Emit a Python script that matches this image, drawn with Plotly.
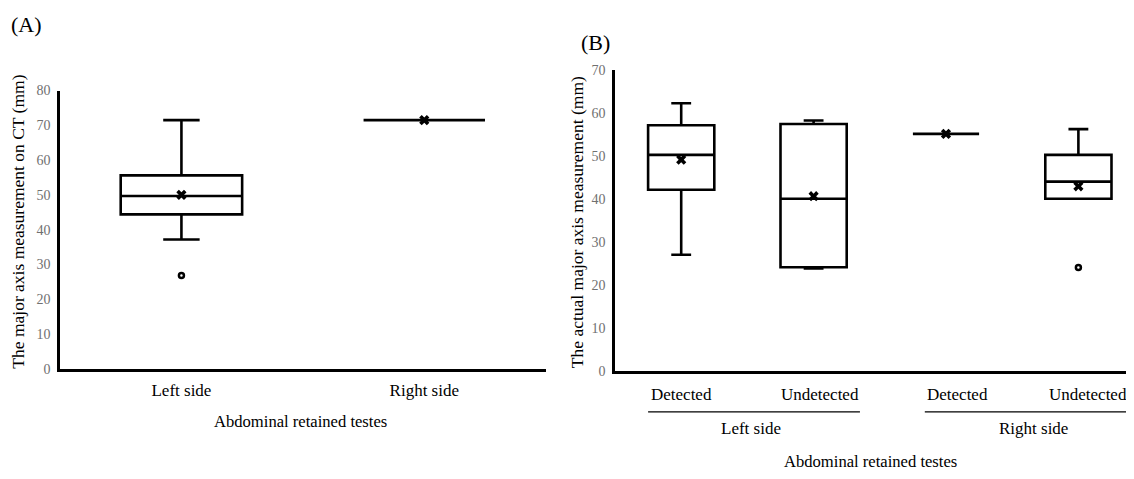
import plotly.graph_objects as go

# ---------------- Data ----------------
# Panel A: major axis measurement on CT (mm)
a_categories = ["Left side", "Right side"]
a_q1 = [44.4, 71.5]
a_median = [49.7, 71.5]
a_q3 = [55.6, 71.5]
a_lowerfence = [37.2, 71.5]
a_upperfence = [71.5, 71.5]
a_mean = [50.0, 71.5]
a_outlier_cat = ["Left side"]
a_outlier_val = [26.8]

# Panel B: actual major axis measurement (mm)
b_categories = ["Left Detected", "Left Undetected", "Right Detected", "Right Undetected"]
b_tick_labels = ["Detected", "Undetected", "Detected", "Undetected"]
b_groups = ["Left side", "Right side"]
b_q1 = [42.2, 24.2, 55.2, 40.1]
b_median = [50.3, 40.1, 55.2, 44.1]
b_q3 = [57.2, 57.5, 55.2, 50.3]
b_lowerfence = [27.1, 23.9, 55.2, 40.1]
b_upperfence = [62.3, 58.3, 55.2, 56.3]
b_mean = [49.2, 40.7, 55.2, 43.0]
b_outlier_cat = ["Right Undetected"]
b_outlier_val = [24.1]

x_title = "Abdominal retained testes"
a_y_title = "The major axis measurement on CT (mm)"
b_y_title = "The actual major axis measurement (mm)"

# ---------------- Figure ----------------
W, H = 1134, 479
OFF = 8  # page body margin
FW, FH = W - OFF, H - OFF
FONT = "Liberation Serif, Times New Roman, serif"
BLACK = "#000000"
GRAY = "#707070"


def pxx(px):
    return (px - OFF) / FW


def py(px):
    return 1 - (px - OFF) / FH


fig = go.Figure()

box_style = dict(
    boxpoints=False, boxmean=False, width=0.5, whiskerwidth=0.3,
    line=dict(color=BLACK, width=2.6), fillcolor="white",
    showlegend=False, hoverinfo="skip",
)
mean_marker = dict(symbol="x", size=9, color=BLACK, line=dict(width=0))
out_marker = dict(symbol="circle-open", size=5, color=BLACK, line=dict(width=2.5, color=BLACK))

fig.add_trace(go.Box(
    x=a_categories, q1=a_q1, median=a_median, q3=a_q3,
    lowerfence=a_lowerfence, upperfence=a_upperfence,
    xaxis="x", yaxis="y", **box_style))
fig.add_trace(go.Scatter(
    x=a_categories, y=a_mean, mode="markers", xaxis="x", yaxis="y",
    marker=mean_marker, showlegend=False, hoverinfo="skip"))
fig.add_trace(go.Scatter(
    x=a_outlier_cat, y=a_outlier_val, mode="markers", xaxis="x", yaxis="y",
    marker=out_marker, showlegend=False, hoverinfo="skip"))

fig.add_trace(go.Box(
    x=b_categories, q1=b_q1, median=b_median, q3=b_q3,
    lowerfence=b_lowerfence, upperfence=b_upperfence,
    xaxis="x2", yaxis="y2", **box_style))
fig.add_trace(go.Scatter(
    x=b_categories, y=b_mean, mode="markers", xaxis="x2", yaxis="y2",
    marker=mean_marker, showlegend=False, hoverinfo="skip"))
fig.add_trace(go.Scatter(
    x=b_outlier_cat, y=b_outlier_val, mode="markers", xaxis="x2", yaxis="y2",
    marker=out_marker, showlegend=False, hoverinfo="skip"))

axis_common = dict(showline=True, linecolor=BLACK, linewidth=2.6, showgrid=False,
                   zeroline=False, ticks="", mirror=False)

fig.update_layout(
    width=FW, height=FH,
    margin=dict(l=0, r=0, t=0, b=0),
    paper_bgcolor="white", plot_bgcolor="white",
    font=dict(family=FONT, color=BLACK),
    xaxis=dict(domain=[pxx(60), pxx(545.7)], type="category", range=[-0.5, 1.5],
               anchor="y", tickfont=dict(size=17, color=BLACK, family=FONT),
               ticklabelstandoff=4, **axis_common),
    yaxis=dict(domain=[py(373.5), py(86)], range=[0, 80], dtick=10, anchor="x",
               tickfont=dict(size=14, color=GRAY, family=FONT), ticklabelstandoff=4,
               **axis_common),
    xaxis2=dict(domain=[pxx(615), 1.0], type="category", range=[-0.5, 3.42],
                anchor="y2", showticklabels=False, **axis_common),
    yaxis2=dict(domain=[py(376), py(65)], range=[0, 70], dtick=10, anchor="x2",
                tickfont=dict(size=14, color=GRAY, family=FONT), ticklabelstandoff=4,
                **axis_common),
)

ann = []
# Panel letters
ann.append(dict(text="(A)", x=pxx(9), y=py(18), xref="paper", yref="paper",
                showarrow=False, xanchor="left", yanchor="middle",
                font=dict(size=22, family=FONT, color=BLACK)))
ann.append(dict(text="(B)", x=pxx(579), y=py(36), xref="paper", yref="paper",
                showarrow=False, xanchor="left", yanchor="middle",
                font=dict(size=22, family=FONT, color=BLACK)))
# Y titles
ann.append(dict(text=a_y_title, x=pxx(18.5), y=py(222), xref="paper", yref="paper",
                showarrow=False, textangle=-90, xanchor="center", yanchor="middle",
                font=dict(size=17.5, family=FONT, color=BLACK)))
ann.append(dict(text=b_y_title, x=pxx(577), y=py(222), xref="paper", yref="paper",
                showarrow=False, textangle=-90, xanchor="center", yanchor="middle",
                font=dict(size=17.5, family=FONT, color=BLACK)))
# X titles
ann.append(dict(text=x_title, x=pxx(300), y=py(428), xref="paper", yref="paper",
                showarrow=False, xanchor="center", yanchor="middle",
                font=dict(size=16.6, family=FONT, color=BLACK)))
ann.append(dict(text=x_title, x=pxx(870), y=py(469), xref="paper", yref="paper",
                showarrow=False, xanchor="center", yanchor="middle",
                font=dict(size=16.6, family=FONT, color=BLACK)))

# Panel B category labels (two-level axis)
label_pos = [0.0, 1.05, 2.085, 3.07]
for lbl, xp in zip(b_tick_labels, label_pos):
    ann.append(dict(text=lbl, x=xp, y=py(400), xref="x2", yref="paper",
                    showarrow=False, xanchor="center", yanchor="middle",
                    font=dict(size=17, family=FONT, color=BLACK)))
group_pos = [0.53, 2.66]
for g, xp in zip(b_groups, group_pos):
    ann.append(dict(text=g, x=xp, y=py(435), xref="x2", yref="paper",
                    showarrow=False, xanchor="center", yanchor="middle",
                    font=dict(size=17, family=FONT, color=BLACK)))

fig.update_layout(annotations=ann)

shapes = [
    dict(type="line", xref="x2", yref="paper", x0=-0.25, x1=1.35,
         y0=py(418), y1=py(418), line=dict(color=BLACK, width=1.3)),
    dict(type="line", xref="x2", yref="paper", x0=1.84, x1=3.6,
         y0=py(418), y1=py(418), line=dict(color=BLACK, width=1.3)),
]
fig.update_layout(shapes=shapes)

fig.write_html("out.html")
